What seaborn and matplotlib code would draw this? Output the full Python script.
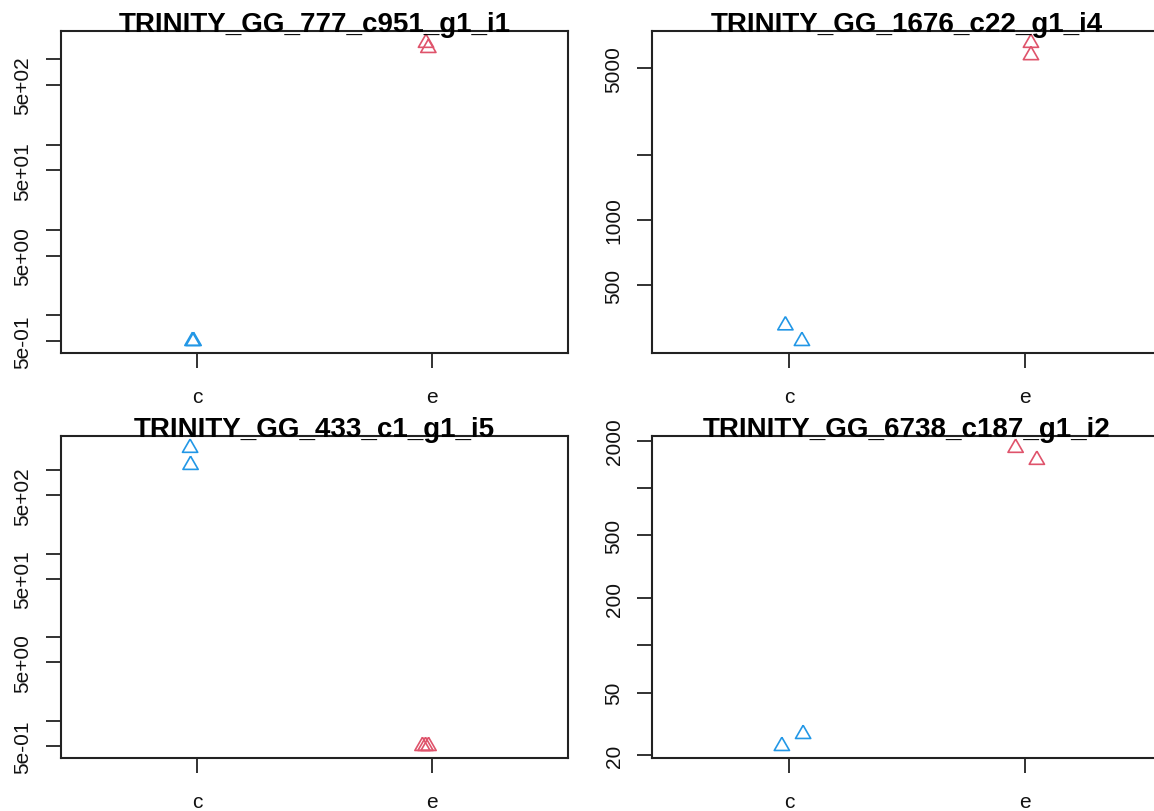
import numpy as np
import pandas as pd
import matplotlib
matplotlib.use("Agg")
import matplotlib.pyplot as plt
from matplotlib.ticker import NullLocator
import seaborn as sns

# ---- data -----------------------------------------------------------------
genes = ["TRINITY_GG_777_c951_g1_i1", "TRINITY_GG_1676_c22_g1_i4",
         "TRINITY_GG_433_c1_g1_i5", "TRINITY_GG_6738_c187_g1_i2"]
groups = ["c", "e"]

# normalized counts (0.5 pseudocount added) for each sample of each group
counts_777_c = [0.5, 0.5]
counts_777_e = [1550, 1350]
counts_1676_c = [327, 277]
counts_1676_e = [6530, 5730]
counts_433_c = [1840, 1150]
counts_433_e = [0.5, 0.5, 0.5]
counts_6738_c = [22.9, 27.3]
counts_6738_e = [1800, 1510]

# horizontal jitter of each sample around its group position
jitter_777_c = [-0.02, -0.015]
jitter_777_e = [-0.025, -0.015]
jitter_1676_c = [-0.015, 0.055]
jitter_1676_e = [0.025, 0.025]
jitter_433_c = [-0.03, -0.028]
jitter_433_e = [-0.04, -0.027, -0.014]
jitter_6738_c = [-0.03, 0.06]
jitter_6738_e = [-0.04, 0.05]

# y tick positions and their labels (empty where the label is dropped)
yticks_sci = [0.5, 1, 5, 10, 50, 100, 500, 1000]
ylabels_sci = ["5e-01", "", "5e+00", "", "5e+01", "", "5e+02", ""]
yticks_1676 = [500, 1000, 2000, 5000]
ylabels_1676 = ["500", "1000", "", "5000"]
yticks_6738 = [20, 50, 100, 200, 500, 1000, 2000]
ylabels_6738 = ["20", "50", "", "200", "500", "", "2000"]

group_colors = {"c": "#2297E6", "e": "#DF536B"}

panels = [
    (genes[0], counts_777_c, counts_777_e, jitter_777_c, jitter_777_e, yticks_sci, ylabels_sci),
    (genes[1], counts_1676_c, counts_1676_e, jitter_1676_c, jitter_1676_e, yticks_1676, ylabels_1676),
    (genes[2], counts_433_c, counts_433_e, jitter_433_c, jitter_433_e, yticks_sci, ylabels_sci),
    (genes[3], counts_6738_c, counts_6738_e, jitter_6738_c, jitter_6738_e, yticks_6738, ylabels_6738),
]

# ---- style ----------------------------------------------------------------
sns.set_style("white")
plt.rcParams["font.family"] = ["Liberation Sans", "DejaVu Sans"]
plt.rcParams["axes.linewidth"] = 1.5

W, H = 1154, 812
fig = plt.figure(figsize=(W / 100, H / 100), dpi=100)
fig.patch.set_facecolor("white")

# axes boxes in pixel coordinates: (left, top, right, bottom)
boxes = [(61, 32, 568, 354), (652, 32, 1162, 354),
         (61, 437, 568, 759), (652, 437, 1162, 759)]

# open equilateral triangle, centred on the point
tri = [(0, 1), (0.866, -0.5), (-0.866, -0.5), (0, 1)]

for (title, cvals, evals, cjit, ejit, yt, yl), (l, t, r, b) in zip(panels, boxes):
    ax = fig.add_axes([l / W, 1 - b / H, (r - l) / W, (b - t) / H])
    df = pd.DataFrame({
        "group": ["c"] * len(cvals) + ["e"] * len(evals),
        "count": list(cvals) + list(evals),
        "offset": list(cjit) + list(ejit),
    })
    df["pos"] = df["group"].map({g: i + 1 for i, g in enumerate(groups)}) + df["offset"]

    for g in groups:
        sub = df[df["group"] == g]
        sns.scatterplot(data=sub, x="pos", y="count", ax=ax, marker=tri,
                        s=160, color=group_colors[g], facecolor="none",
                        edgecolor=group_colors[g], linewidth=1.2, zorder=3)

    ax.set_yscale("log")
    lo, hi = np.log10(df["count"].min()), np.log10(df["count"].max())
    pad = 0.04 * (hi - lo)
    ax.set_ylim(10 ** (lo - pad), 10 ** (hi + pad))
    ax.set_xlim(0.5 - 0.08, len(groups) + 0.5 + 0.08)

    ax.set_xticks(range(1, len(groups) + 1))
    ax.set_xticklabels(groups)
    ax.set_yticks(yt)
    ax.set_yticklabels(yl)
    ax.yaxis.set_minor_locator(NullLocator())
    ax.xaxis.set_minor_locator(NullLocator())
    ax.set_xlabel("")
    ax.set_ylabel("")

    ax.tick_params(axis="both", which="major", direction="out", length=10.5,
                   width=1.3, color="#222222", labelsize=15, labelcolor="#111111",
                   left=True, bottom=True)
    ax.tick_params(axis="x", pad=14)
    ax.tick_params(axis="y", pad=10, labelrotation=90)
    for lab in ax.get_yticklabels():
        lab.set_va("center")
    for sp in ax.spines.values():
        sp.set_visible(True)
        sp.set_color("#222222")
        sp.set_linewidth(1.5)
    ax.grid(False)

    ax.text(0.5, 1.0, title, transform=ax.transAxes, ha="center",
            va="baseline", fontsize=20, fontweight="bold", color="black",
            clip_on=False, zorder=5)

fig.savefig("out.png", dpi=100, facecolor="white")
